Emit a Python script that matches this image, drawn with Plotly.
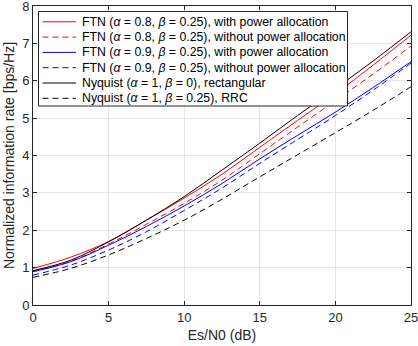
import plotly.graph_objects as go

# Es/N0 in dB
snr_db = [0, 2.5, 5, 7.5, 10, 12.5, 15, 17.5, 20, 22.5, 25]

# rates [bps/Hz]
ftn08_pa = [0.98, 1.28, 1.70, 2.27, 2.86, 3.50, 4.22, 4.94, 5.65, 6.42, 7.22]
ftn08_nopa = [0.90, 1.17, 1.63, 2.16, 2.72, 3.34, 4.05, 4.76, 5.47, 6.18, 6.93]
ftn09_pa = [0.89, 1.16, 1.60, 2.10, 2.65, 3.25, 3.91, 4.54, 5.16, 5.82, 6.51]
ftn09_nopa = [0.80, 1.07, 1.47, 1.96, 2.53, 3.13, 3.79, 4.43, 5.07, 5.75, 6.47]
nyq_rect = [0.92, 1.20, 1.69, 2.27, 2.90, 3.61, 4.33, 5.07, 5.79, 6.53, 7.31]
nyq_rrc = [0.74, 0.98, 1.34, 1.78, 2.27, 2.83, 3.43, 4.02, 4.61, 5.21, 5.84]

names = [
    "FTN (<i>α</i> = 0.8, <i>β</i> = 0.25), with power allocation",
    "FTN (<i>α</i> = 0.8, <i>β</i> = 0.25), without power allocation",
    "FTN (<i>α</i> = 0.9, <i>β</i> = 0.25), with power allocation",
    "FTN (<i>α</i> = 0.9, <i>β</i> = 0.25), without power allocation",
    "Nyquist (<i>α</i> = 1, <i>β</i> = 0), rectangular",
    "Nyquist (<i>α</i> = 1, <i>β</i> = 0.25), RRC",
]
series = [ftn08_pa, ftn08_nopa, ftn09_pa, ftn09_nopa, nyq_rect, nyq_rrc]
colors = ["red", "red", "blue", "blue", "black", "black"]
dashes = ["solid", "6px,4px", "solid", "6px,4px", "solid", "6px,4px"]

W, H = 418, 346
L, R, T, B = 33, 7, 6, 41
pw, ph = W - L - R, H - T - B

def px(xp):  # pixel x -> paper
    return (xp - L) / pw

def py(yp):  # pixel y -> paper
    return (H - B - yp) / ph

fig = go.Figure()
for i in range(len(series)):
    fig.add_trace(go.Scatter(
        x=snr_db, y=series[i], name=names[i], mode="lines", showlegend=False,
        line=dict(color=colors[i], width=1, dash=dashes[i], shape="spline"),
    ))

# hand-built legend box (MATLAB style, tighter rows than plotly's legend)
shapes = [dict(type="rect", xref="paper", yref="paper",
               x0=px(38.5), x1=px(347.5), y0=py(106), y1=py(11.5),
               line=dict(color="#262626", width=1), fillcolor="white", layer="above")]
annotations = []
row0, step = 21.8, 15.3
for i in range(len(names)):
    yy = py(row0 + i * step)
    shapes.append(dict(type="line", xref="paper", yref="paper",
                       x0=px(42.5), x1=px(76), y0=yy, y1=yy, layer="above",
                       line=dict(color=colors[i], width=1, dash=dashes[i])))
    annotations.append(dict(text=names[i], xref="paper", yref="paper",
                            x=px(79.5), y=yy, xanchor="left", yanchor="middle",
                            showarrow=False, font=dict(size=12.3, color="black")))

axis_style = dict(
    showline=True, linecolor="#262626", linewidth=1, mirror="ticks",
    ticks="inside", ticklen=4, tickcolor="#262626", automargin=False,
    ticklabeloverflow="allow",
    showgrid=True, gridcolor="#e6e6e6", gridwidth=1, zeroline=False,
    tickfont=dict(size=13, color="#262626"),
)

fig.update_layout(
    width=W, height=H,
    margin=dict(l=L, r=R, t=T, b=B),
    paper_bgcolor="white", plot_bgcolor="white",
    font=dict(family="Liberation Sans, Arial, sans-serif", color="#262626"),
    xaxis=dict(range=[0, 25], dtick=5,
               title=dict(text="Es/N0 (dB)", font=dict(size=14), standoff=6),
               **axis_style),
    yaxis=dict(range=[0, 8], dtick=1,
               title=dict(text="Normalized information rate [bps/Hz]", font=dict(size=14), standoff=4),
               **axis_style),
    shapes=shapes,
    annotations=annotations,
)

# drop the default body margin so the figure sits at the window's corner
fig.write_html("out.html", config={"displayModeBar": False},
               post_script="document.body.style.margin='0px';")
